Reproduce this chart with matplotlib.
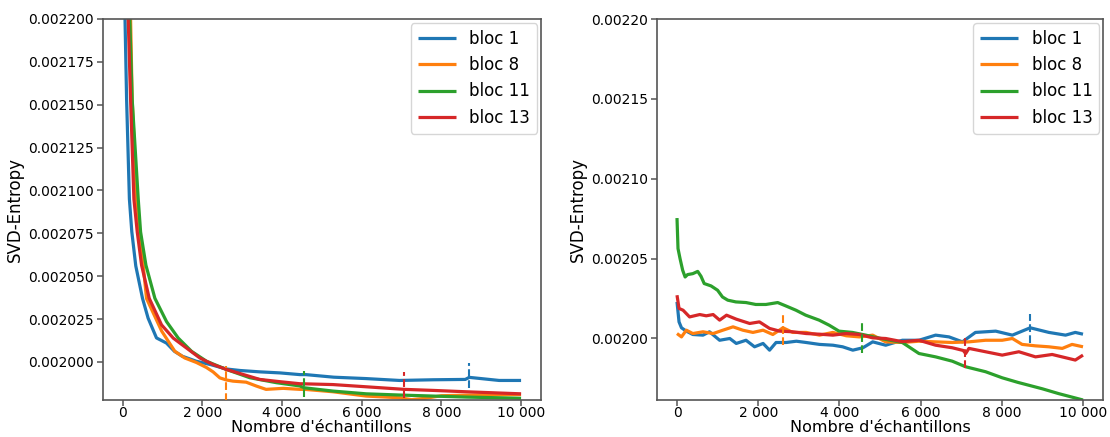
import matplotlib
matplotlib.use("Agg")
import matplotlib.pyplot as plt
from matplotlib.ticker import MultipleLocator, FormatStrFormatter, FuncFormatter
import numpy as np

SCALE = 1e-6  # values below are stored in units of 1e-6

labels = ["bloc 1", "bloc 8", "bloc 11", "bloc 13"]
colors = ["#1f77b4", "#ff7f0e", "#2ca02c", "#d62728"]

# ---------- left panel ----------
L_b1_x = [0, 60, 100, 170, 230, 330, 500, 640, 850, 1100, 1300, 1500, 1850, 2200, 2600, 2950,
          3450, 3950, 4450, 4600, 5300, 6100, 6950, 7800, 8600, 8700, 9450, 10000]
L_b1_y = [2320, 2200, 2153, 2095, 2076, 2056, 2037, 2025.5, 2014, 2011, 2006.2, 2003.3, 2000.4,
          1998.5, 1995.9, 1995.0, 1994.2, 1993.6, 1992.6, 1992.6, 1991.1, 1990.3, 1989.2, 1989.6,
          1989.8, 1991.0, 1989.2, 1989.2]

L_b8_x = [0, 200, 240, 350, 600, 980, 1310, 1560, 1850, 2100, 2270, 2440, 2600, 2770, 3100,
          3360, 3600, 4030, 4450, 4570, 5280, 6110, 6950, 7250, 7600, 8000, 9000, 10000]
L_b8_y = [2420, 2200, 2153, 2095, 2037, 2018, 2006.2, 2002.3, 1999.7, 1996.8, 1994.2, 1990.7,
          1989.5, 1988.8, 1988.2, 1985.9, 1984.0, 1984.6, 1984.0, 1984.0, 1982.6, 1980.1, 1979.1,
          1978.0, 1978.8, 1980.3, 1980.8, 1981.0]

L_b11_x = [0, 180, 240, 392, 451, 585, 810, 1103, 1396, 1729, 2104, 2606, 3190, 3858, 4443,
           4568, 5279, 6114, 6950, 7785, 8620, 9455, 10000]
L_b11_y = [2400, 2200, 2153, 2095, 2075.8, 2056.4, 2037.1, 2023.5, 2013.9, 2006.2, 2000.4,
           1995.6, 1990.8, 1987.9, 1986.0, 1984.9, 1983.0, 1981.4, 1980.7, 1980.1, 1979.5,
           1979.1, 1978.8]

L_b13_x = [0, 140, 200, 283, 367, 476, 668, 977, 1270, 1604, 1938, 2271, 2606, 3023, 3440,
           3942, 4443, 5279, 6114, 7075, 7785, 8620, 10000]
L_b13_y = [2380, 2200, 2153, 2095, 2075.8, 2056.4, 2037.1, 2021.6, 2013.9, 2008.1, 2002.3,
           1998.5, 1995.6, 1992.7, 1989.8, 1988.5, 1987.3, 1986.8, 1985.5, 1984.0, 1983.4,
           1982.6, 1981.4]

# dashed markers (order: bloc 1, bloc 8, bloc 11, bloc 13)
L_mark_x = [8700, 2600, 4550, 7050]
L_mark_lo = [1984.9, 1977.0, 1979.5, 1979.1]
L_mark_hi = [1999.4, 1997.7, 1994.6, 1994.0]

# ---------- right panel ----------
R_b1_x = [0, 50, 110, 230, 390, 640, 800, 1050, 1300, 1460, 1700, 1910, 2120, 2280, 2440, 2690,
          2940, 3180, 3510, 3840, 4080, 4330, 4580, 4820, 5140, 5550, 5960, 6370, 6700, 7030,
          7350, 7850, 8260, 8700, 9160, 9570, 9810, 10000]
R_b1_y = [2022.9, 2010.4, 2006.7, 2004.6, 2002.5, 2002.1, 2004.2, 1998.9, 2000.0, 1996.9, 1998.9,
          1994.8, 1996.9, 1992.7, 1997.5, 1997.5, 1998.3, 1997.5, 1996.3, 1995.8, 1994.8, 1992.7,
          1994.2, 1997.9, 1995.8, 1998.9, 1998.9, 2002.1, 2001.0, 1997.9, 2003.8, 2004.6, 2002.1,
          2006.7, 2003.8, 2002.1, 2003.8, 2002.7]

R_b8_x = [0, 110, 230, 390, 640, 890, 1130, 1380, 1620, 1870, 2120, 2360, 2610, 2850, 3180, 3510,
          3840, 4170, 4490, 4820, 5140, 5550, 5960, 6370, 6780, 7190, 7600, 8010, 8260, 8500,
          8830, 9160, 9490, 9730, 10000]
R_b8_y = [2003.1, 2001.0, 2005.2, 2003.1, 2004.2, 2003.1, 2005.2, 2007.3, 2005.2, 2003.8, 2005.2,
          2002.5, 2006.7, 2003.8, 2003.8, 2002.1, 2003.8, 2001.7, 2001.0, 2002.1, 1997.9, 1997.5,
          1998.3, 1997.9, 1997.5, 1997.9, 1998.9, 1998.9, 2000.0, 1996.3, 1995.4, 1994.8, 1993.8,
          1996.3, 1994.8]

R_b11_x = [0, 25, 75, 140, 200, 260, 390, 510, 590, 670, 840, 1000, 1120, 1250, 1450, 1700, 1940,
           2190, 2480, 2680, 2930, 3170, 3500, 3750, 3990, 4320, 4650, 4940, 5550, 5960, 6370,
           6780, 7110, 7600, 8010, 8400, 9000, 9400, 10000]
R_b11_y = [2075.4, 2056.3, 2050.0, 2042.7, 2038.5, 2040.0, 2040.6, 2042.0, 2039.0, 2034.4, 2032.9,
           2030.2, 2026.0, 2024.0, 2022.9, 2022.5, 2021.3, 2021.3, 2022.5, 2020.4, 2017.7, 2014.6,
           2011.5, 2008.3, 2004.6, 2003.8, 2002.1, 2000.4, 1997.5, 1990.6, 1988.5, 1985.8, 1982.3,
           1979.2, 1975.4, 1972.5, 1968.5, 1965.5, 1961.5]

R_b13_x = [0, 50, 150, 310, 560, 720, 890, 1050, 1220, 1460, 1790, 2030, 2280, 2530, 2850, 3180,
           3510, 3840, 4170, 4490, 4820, 5140, 5550, 5960, 6370, 6780, 7050, 7110, 7190, 7600,
           8010, 8420, 8830, 9240, 9810, 10000]
R_b13_y = [2027.1, 2018.8, 2017.7, 2013.5, 2015.0, 2014.2, 2015.0, 2011.5, 2014.6, 2012.1, 2009.4,
           2010.4, 2006.3, 2004.6, 2004.2, 2003.1, 2002.7, 2002.1, 2003.1, 2002.5, 2000.4, 2000.0,
           1998.0, 1998.9, 1995.8, 1994.2, 1992.5, 1990.6, 1993.8, 1991.7, 1989.6, 1991.7, 1988.5,
           1990.0, 1986.5, 1989.6]

R_mark_x = [8690, 2610, 4550, 7090]
R_mark_lo = [1996.9, 1995.8, 1991.2, 1981.3]
R_mark_hi = [2015.6, 2015.6, 2010.4, 2001.0]

SPINE = "#555555"

fig = plt.figure(figsize=(11.10, 4.37), dpi=100)
axL = fig.add_axes([102.7 / 1110, 37.0 / 437, 438.3 / 1110, 381.0 / 437])
axR = fig.add_axes([656.7 / 1110, 37.0 / 437, 446.6 / 1110, 381.0 / 437])

thousands = FuncFormatter(lambda v, p: f"{int(round(v)):,}".replace(",", " "))

panels = [
    (axL, [(L_b1_x, L_b1_y), (L_b8_x, L_b8_y), (L_b11_x, L_b11_y), (L_b13_x, L_b13_y)],
     (L_mark_x, L_mark_lo, L_mark_hi), (0.0019778, 0.0022), 0.000025, "%.6f"),
    (axR, [(R_b1_x, R_b1_y), (R_b8_x, R_b8_y), (R_b11_x, R_b11_y), (R_b13_x, R_b13_y)],
     (R_mark_x, R_mark_lo, R_mark_hi), (0.0019615, 0.0022), 0.00005, "%.5f"),
]

for ax, series, marks, ylim, ystep, yfmt in panels:
    for (xs, ys), lab, col in zip(series, labels, colors):
        ax.plot(xs, np.array(ys) * SCALE, color=col, lw=2.3, label=lab, solid_capstyle="butt")
    mx, mlo, mhi = marks
    for x, lo, hi, col in zip(mx, mlo, mhi, colors):
        ax.plot([x, x], [lo * SCALE, hi * SCALE], color=col, lw=1.5, ls="--", zorder=3)
    ax.set_xlim(-500, 10500)
    ax.set_ylim(*ylim)
    ax.xaxis.set_major_locator(MultipleLocator(2000))
    ax.xaxis.set_major_formatter(thousands)
    ax.yaxis.set_major_locator(MultipleLocator(ystep))
    ax.yaxis.set_major_formatter(FormatStrFormatter(yfmt))
    ax.tick_params(axis="both", labelsize=10, length=4.5, width=1.1, color=SPINE)
    ax.tick_params(axis="x", pad=0.5, length=4)
    ax.tick_params(axis="y", pad=2)
    for s in ax.spines.values():
        s.set_color(SPINE)
        s.set_linewidth(1.2)
    ax.set_xlabel("Nombre d'échantillons", fontsize=11.5, labelpad=0)
    ax.set_ylabel("SVD-Entropy", fontsize=12, labelpad=3)
    leg = ax.legend(loc="upper right", fontsize=12, borderaxespad=0.25, handlelength=2.3,
                    framealpha=0.8, edgecolor="#cccccc", fancybox=True)

fig.savefig("out.png", dpi=100, facecolor="white")
